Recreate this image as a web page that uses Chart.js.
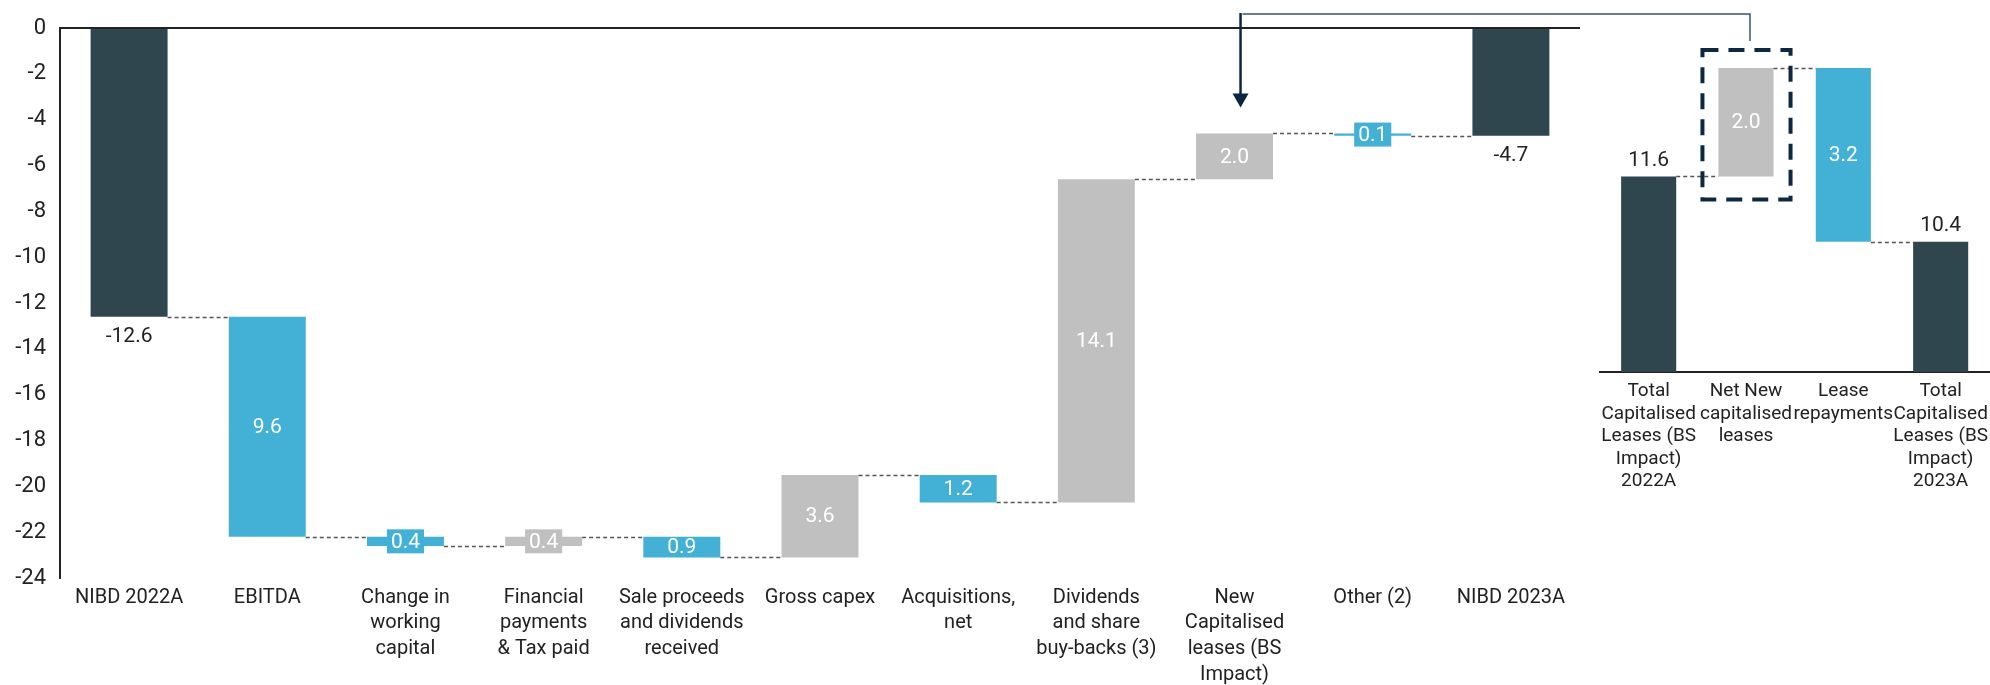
<!DOCTYPE html>
<html>
<head>
<meta charset="utf-8">
<script src="https://cdn.jsdelivr.net/npm/chart.js@4.4.0/dist/chart.umd.min.js"></script>
<style>
  body { margin: 0; background: #fff; overflow: hidden; }
  #wrap { position: relative; width: 1990px; height: 685px; overflow: hidden; }
  canvas { position: absolute; top: 0; }
  #mainChart { left: 0; }
  #leaseChart { left: 1580px; }
</style>
</head>
<body>
<div id="wrap">
  <canvas id="mainChart" width="1990" height="685"></canvas>
  <canvas id="leaseChart" width="416" height="685"></canvas>
</div>

<script>
// NIBD bridge (left chart)
const mainLabels = [
  "NIBD 2022A",
  "EBITDA",
  ["Change in", "working", "capital"],
  ["Financial", "payments", "& Tax paid"],
  ["Sale proceeds", "and dividends", "received"],
  "Gross capex",
  ["Acquisitions,", "net"],
  ["Dividends", "and share", "buy-backs (3)"],
  ["New", "Capitalised", "leases (BS", "Impact)"],
  "Other (2)",
  "NIBD 2023A"
];
const mainSteps  = [-12.6, -9.6, -0.4, 0.4, -0.9, 3.6, -1.2, 14.1, 2.0, -0.1, -4.7];
const mainTotals = [true, false, false, false, false, false, false, false, false, false, true];
const mainTicks  = [0, -2, -4, -6, -8, -10, -12, -14, -16, -18, -20, -22, -24];

// capitalised leases bridge (right chart)
const leaseLabels = [
  ["Total", "Capitalised", "Leases (BS", "Impact)", "2022A"],
  ["Net New", "capitalised", "leases"],
  ["Lease", "repayments"],
  ["Total", "Capitalised", "Leases (BS", "Impact)", "2023A"]
];
const leaseSteps  = [11.6, 2.0, -3.2, 10.4];
const leaseTotals = [true, false, false, true];

const DARK = "#2F464F", BLUE = "#43B0D6", GREY = "#C0C0C0";
const FONT = "Roboto";

// turn steps into floating bars
function buildBars(steps, totals) {
  let cum = 0;
  const ranges = [], colors = [], levels = [];
  steps.forEach((v, i) => {
    if (totals[i]) {
      ranges.push([0, v]);
      cum = v;
      colors.push(DARK);
    } else {
      ranges.push([cum, cum + v]);
      cum = +(cum + v).toFixed(2);
      colors.push(v < 0 ? BLUE : GREY);
    }
    levels.push(cum);
  });
  return { ranges, colors, levels };
}

function waterfallPlugin(steps, totals, levels, colors) {
  return {
    id: "waterfall",
    afterDatasetsDraw(chart) {
      const ctx = chart.ctx;
      const meta = chart.getDatasetMeta(0);
      const ys = chart.scales.y;
      ctx.save();
      // dashed connectors
      ctx.strokeStyle = "#555";
      ctx.lineWidth = 1.5;
      ctx.setLineDash([4, 3]);
      for (let i = 0; i < meta.data.length - 1; i++) {
        const a = meta.data[i], b = meta.data[i + 1];
        const y = Math.round(ys.getPixelForValue(levels[i])) + 0.5;
        ctx.beginPath();
        ctx.moveTo(a.x + a.width / 2, y);
        ctx.lineTo(b.x - b.width / 2, y);
        ctx.stroke();
      }
      ctx.setLineDash([]);
      // value labels
      ctx.font = "21px " + FONT;
      ctx.textAlign = "center";
      ctx.textBaseline = "middle";
      meta.data.forEach((el, i) => {
        const v = steps[i];
        const top = Math.min(el.y, el.base), bottom = Math.max(el.y, el.base);
        if (totals[i]) {
          ctx.fillStyle = "#222";
          const txt = v.toFixed(1);
          if (v < 0) ctx.fillText(txt, el.x, bottom + 20);
          else ctx.fillText(txt, el.x, el.y - 16);
        } else {
          const txt = Math.abs(v).toFixed(1);
          const cy = (top + bottom) / 2;
          if (bottom - top < 16) {
            const w = ctx.measureText(txt).width + 8;
            ctx.fillStyle = colors[i];
            ctx.fillRect(el.x - w / 2, cy - 12, w, 24);
          }
          ctx.fillStyle = "#fff";
          ctx.fillText(txt, el.x, cy + 1);
        }
      });
      ctx.restore();
    }
  };
}

const mainBars = buildBars(mainSteps, mainTotals);
const leaseBars = buildBars(leaseSteps, leaseTotals);

// right chart first so the left one can point at it
const leaseChart = new Chart("leaseChart", {
  type: "bar",
  data: {
    labels: leaseLabels,
    datasets: [{
      data: leaseBars.ranges,
      backgroundColor: leaseBars.colors,
      barPercentage: 0.566,
      categoryPercentage: 1
    }]
  },
  options: {
    responsive: false,
    animation: false,
    layout: { padding: { top: 19, left: 20, right: 0, bottom: 0 } },
    plugins: { legend: { display: false }, tooltip: { enabled: false } },
    scales: {
      x: {
        grid: { display: false, drawTicks: false },
        border: { display: true, color: "#222", width: 2 },
        ticks: {
          autoSkip: false, maxRotation: 0, padding: 8,
          color: "#222", font: { family: FONT, size: 19, lineHeight: 1.19 }
        },
        afterFit(s) { s.height = 313; }
      },
      y: { display: false, min: 8, max: 14.5 }
    }
  },
  plugins: [
    waterfallPlugin(leaseSteps, leaseTotals, leaseBars.levels, leaseBars.colors),
    {
      id: "dashBox",
      afterDatasetsDraw(chart) {
        const el = chart.getDatasetMeta(0).data[1];
        const ctx = chart.ctx;
        const top = Math.min(el.y, el.base), bottom = Math.max(el.y, el.base);
        ctx.save();
        ctx.strokeStyle = "#0D2840";
        ctx.lineWidth = 4;
        ctx.setLineDash([16, 10]);
        ctx.strokeRect(el.x - el.width / 2 - 16, top - 18, el.width + 33, bottom - top + 41);
        ctx.restore();
      }
    }
  ]
});

new Chart("mainChart", {
  type: "bar",
  data: {
    labels: mainLabels,
    datasets: [{
      data: mainBars.ranges,
      backgroundColor: mainBars.colors,
      barPercentage: 0.557,
      categoryPercentage: 1
    }]
  },
  options: {
    responsive: false,
    animation: false,
    layout: { padding: { top: 28, left: 0, right: 410, bottom: 0 } },
    plugins: { legend: { display: false }, tooltip: { enabled: false } },
    scales: {
      x: {
        grid: { display: false, drawTicks: false },
        border: { display: false },
        ticks: {
          autoSkip: false, maxRotation: 0, padding: 7,
          color: "#222", font: { family: FONT, size: 20, lineHeight: 1.28 }
        },
        afterFit(s) { s.height = 107; }
      },
      y: {
        min: -24, max: 0,
        afterBuildTicks(s) { s.ticks = mainTicks.map(v => ({ value: v })); },
        grid: {
          drawTicks: false,
          color: c => (c.tick && c.tick.value === 0 ? "#222" : "rgba(0,0,0,0)"),
          lineWidth: 2
        },
        border: { display: true, color: "#222", width: 2 },
        ticks: { padding: 14, color: "#222", font: { family: FONT, size: 22 } },
        afterFit(s) { s.width = 60; }
      }
    }
  },
  plugins: [
    waterfallPlugin(mainSteps, mainTotals, mainBars.levels, mainBars.colors),
    {
      id: "pointer",
      afterDraw(chart) {
        const ctx = chart.ctx;
        const target = chart.getDatasetMeta(0).data[8];
        const lease = leaseChart.getDatasetMeta(0).data[1];
        const offset = leaseChart.canvas.offsetLeft;
        const ax = target.x + 6;
        const tipY = Math.min(target.y, target.base) - 26;
        const lx = offset + lease.x + 4;
        const boxTop = Math.min(lease.y, lease.base) - 18;
        ctx.save();
        ctx.strokeStyle = "#3D5569";
        ctx.lineWidth = 1.5;
        ctx.beginPath();
        ctx.moveTo(ax + 2, 14);
        ctx.lineTo(lx, 14);
        ctx.lineTo(lx, boxTop - 9);
        ctx.stroke();
        ctx.strokeStyle = "#0B2640";
        ctx.fillStyle = "#0B2640";
        ctx.lineWidth = 2.5;
        ctx.beginPath();
        ctx.moveTo(ax, 13);
        ctx.lineTo(ax, tipY - 12);
        ctx.stroke();
        ctx.beginPath();
        ctx.moveTo(ax - 8, tipY - 14);
        ctx.lineTo(ax + 8, tipY - 14);
        ctx.lineTo(ax, tipY);
        ctx.closePath();
        ctx.fill();
        ctx.restore();
      }
    }
  ]
});
</script>
</body>
</html>
